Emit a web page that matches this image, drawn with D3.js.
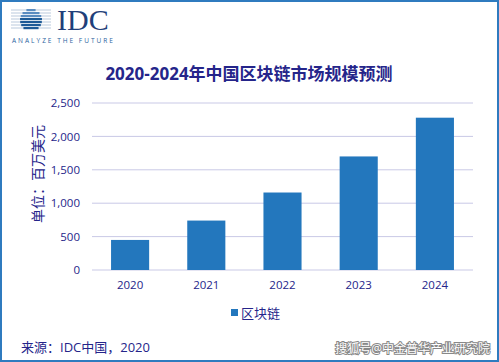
<!DOCTYPE html>
<html>
<head>
<meta charset="utf-8">
<script src="https://cdn.jsdelivr.net/npm/d3@7"></script>
<style>
  body { margin: 0; background: #fff; }
  text { font-family: "Open Sans", "Noto Sans CJK SC", sans-serif; }
</style>
</head>
<body>
<div id="chart-area"></div>
<script>
// data
var years = ["2020", "2021", "2022", "2023", "2024"];
var values = [450, 740, 1160, 1700, 2280];
var yTicks = [0, 500, 1000, 1500, 2000, 2500];
var seriesName = "区块链";
var titleText = "2020-2024年中国区块链市场规模预测";
var yLabel = "单位：百万美元";
var sourceText = "来源：IDC中国，2020";
var markText = "搜狐号@中金普华产业研究院";

var W = 499, H = 362;
var margin = {left: 92, right: 26, top: 103, bottom: 92};
var width = W - margin.left - margin.right,
	height = H - margin.top - margin.bottom;

var navy = "#25258a";
var barColor = "#2377bd";

var svg = d3.select("#chart-area").append("svg")
	.attr("width", W)
	.attr("height", H);

// frame
svg.append("rect")
	.attr("x", 1).attr("y", 1)
	.attr("width", W - 2).attr("height", H - 2)
	.attr("fill", "none")
	.attr("stroke", "#2f7bbf")
	.attr("stroke-width", 2);

// logo
var logo = svg.append("g").attr("transform", "translate(31,20)");
var stripes = [-10, -7, -4, -1, 2, 5, 8];
logo.selectAll("line.bg").data(stripes).enter().append("line")
	.attr("x1", -20).attr("x2", 20)
	.attr("y1", d => d).attr("y2", d => d)
	.attr("stroke", "#b9c9dc").attr("stroke-width", 1);
logo.selectAll("rect.c").data(stripes).enter().append("rect")
	.attr("x", d => -Math.sqrt(Math.max(0, 121 - d * d)))
	.attr("y", d => d - 1)
	.attr("width", d => 2 * Math.sqrt(Math.max(0, 121 - d * d)))
	.attr("height", 2.2)
	.attr("fill", (d, i) => i < 3 ? "#5a8cc0" : "#1d5a96");
svg.append("text")
	.attr("x", 57).attr("y", 30)
	.attr("font-size", 30)
	.attr("fill", "#1f3f7a")
	.style("font-family", "Liberation Serif, serif")
	.text("IDC");
svg.append("text")
	.attr("x", 12).attr("y", 43)
	.attr("font-size", 6.5)
	.attr("letter-spacing", 2)
	.attr("fill", "#2a64a0")
	.text("ANALYZE THE FUTURE");

// title
svg.append("text")
	.attr("x", 249).attr("y", 80)
	.attr("text-anchor", "middle")
	.attr("font-size", 17)
	.attr("font-weight", "bold")
	.attr("fill", navy)
	.text(titleText);

var g = svg.append("g")
	.attr("transform", "translate(" + margin.left + "," + margin.top + ")");

// scales
var x = d3.scaleBand().domain(years).range([0, width]).paddingInner(0.5).paddingOuter(0.25);
var y = d3.scaleLinear().domain([0, 2500]).range([height, 0]);

// grid
g.selectAll("line.grid").data(yTicks).enter().append("line")
	.attr("class", "grid")
	.attr("x1", 0).attr("x2", width)
	.attr("y1", d => y(d)).attr("y2", d => y(d))
	.attr("stroke", "#c9c9e6")
	.attr("stroke-width", 1);

// y axis
var yAxis = g.append("g")
	.call(d3.axisLeft(y).tickValues(yTicks).tickSize(0).tickPadding(12)
		.tickFormat(d3.format(",")));
yAxis.select(".domain").remove();
yAxis.selectAll("text")
	.attr("font-size", 11.5)
	.attr("fill", navy)
	.style("font-family", "Open Sans, sans-serif");

// x axis
var xAxis = g.append("g")
	.attr("transform", "translate(0," + height + ")")
	.call(d3.axisBottom(x).tickSize(0).tickPadding(11));
xAxis.select(".domain").remove();
xAxis.selectAll("text")
	.attr("font-size", 11.5)
	.attr("fill", navy)
	.style("font-family", "Open Sans, sans-serif");

// bars
g.selectAll("rect.bar").data(values).enter().append("rect")
	.attr("class", "bar")
	.attr("x", (d, i) => x(years[i]))
	.attr("width", x.bandwidth())
	.attr("y", d => y(d))
	.attr("height", d => height - y(d))
	.attr("fill", barColor);

// y label
svg.append("text")
	.attr("transform", "translate(43,174) rotate(-90)")
	.attr("text-anchor", "middle")
	.attr("font-size", 14)
	.attr("fill", navy)
	.text(yLabel);

// legend
svg.append("rect")
	.attr("x", 231).attr("y", 309)
	.attr("width", 7).attr("height", 7)
	.attr("fill", barColor);
svg.append("text")
	.attr("x", 241).attr("y", 318)
	.attr("font-size", 13)
	.attr("fill", navy)
	.text(seriesName);

// source
svg.append("text")
	.attr("x", 21).attr("y", 352)
	.attr("font-size", 13)
	.attr("fill", navy)
	.text(sourceText);

// watermark
svg.append("text")
	.attr("x", 490).attr("y", 353)
	.attr("text-anchor", "end")
	.attr("font-size", 12)
	.attr("fill", "#fff")
	.attr("stroke", "#888")
	.attr("stroke-width", 2)
	.attr("paint-order", "stroke")
	.text(markText);
</script>
</body>
</html>
